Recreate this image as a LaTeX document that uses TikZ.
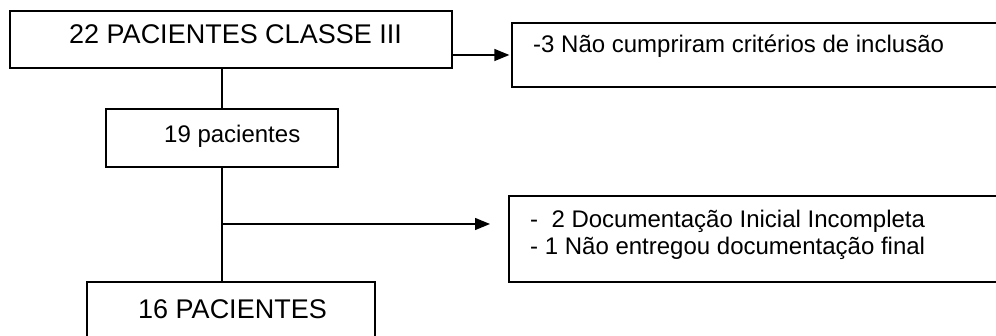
\documentclass[tikz,border=0pt]{standalone}
\usepackage{fontspec}
\setmainfont{Liberation Sans}
\usetikzlibrary{calc,arrows.meta}
\begin{document}
\begin{tikzpicture}[x=1pt,y=-1pt,
  box/.style={draw,line width=1.3pt,rectangle,inner sep=0pt},
  txt/.style={inner sep=0pt,anchor=base west,font=\fontsize{24}{27}\selectfont},
  bigtxt/.style={inner sep=0pt,anchor=base west,font=\fontsize{27}{30}\selectfont},
  conn/.style={line width=1.3pt},
  arr/.style={line width=1.3pt,-{Triangle[length=15pt,width=12pt]}}]
\useasboundingbox (0,0) rectangle (996,336);
\clip (0,0) rectangle (996,336);
\fill[white] (0,0) rectangle (996,336);

% boxes
\node[box,minimum width=442pt,minimum height=57pt] (b1) at (231,39.5) {};
\node[box,minimum width=498pt,minimum height=64pt] (b2) at (761,55) {};
\node[box,minimum width=232pt,minimum height=58pt] (b19) at (222,138) {};
\node[box,minimum width=501pt,minimum height=86pt] (b3) at (759.5,239) {};
\node[box,minimum width=288pt,minimum height=68pt] (b16) at (231,316) {};

% texts
\node[bigtxt] (t1) at (69,43.5) {22 PACIENTES CLASSE III};
\node[txt] (t2) at (533,53) {-3 Não cumpriram critérios de inclusão};
\node[txt] (t19) at (164,143) {19 pacientes};
\node[txt] (t3a) at (530,227.5) {-\ \ 2 Documentação Inicial Incompleta};
\node[txt] (t3b) at (530,255) {- 1 Não entregou documentação final};
\node[bigtxt] (t16) at (138,318.5) {16 PACIENTES};

% connectors
\coordinate (a1) at ($(b1.east)+(0,15.5)$);
\coordinate (a1end) at ($(b2.west |- a1)+(-2,0)$);
\draw[arr] (a1) -- (a1end);
\draw[conn] (b19.north |- b1.south) -- (b19.north);
\draw[conn] (b19.south) -- (b19.south |- b16.north);
\coordinate (br) at (222,224);
\coordinate (brend) at (490,224);
\draw[arr] (br) -- (brend);
\end{tikzpicture}
\end{document}
